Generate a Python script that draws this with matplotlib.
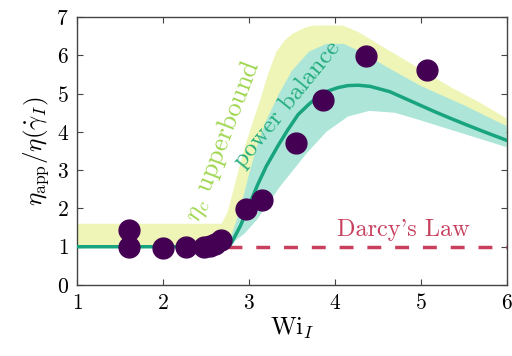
import numpy as np
import matplotlib
matplotlib.use("Agg")
import matplotlib.pyplot as plt

plt.rcParams['mathtext.fontset'] = 'cm'
plt.rcParams['font.family'] = 'serif'
plt.rcParams['font.serif'] = ['cmr10', 'DejaVu Serif']
plt.rcParams['axes.formatter.use_mathtext'] = True

# experimental points
wi_pts = [1.60, 1.60, 2.00, 2.27, 2.48, 2.55, 2.60, 2.67, 2.97, 3.15, 3.55, 3.86, 4.36, 5.07]
eta_pts = [1.45, 1.00, 0.97, 1.00, 1.00, 1.02, 1.07, 1.17, 1.98, 2.22, 3.72, 4.83, 5.98, 5.63]

# power balance curve
wi_curve = [1.0, 2.76, 2.8, 2.9, 3.0, 3.1, 3.2, 3.34, 3.45, 3.57, 3.7, 3.81, 3.92, 4.04,
            4.15, 4.27, 4.41, 4.64, 4.95, 5.15, 5.34, 5.55, 5.73, 6.0]
eta_curve = [1.0, 1.0, 1.12, 1.55, 2.08, 2.62, 3.1, 3.65, 4.05, 4.45, 4.73, 4.93, 5.07, 5.16,
             5.21, 5.22, 5.19, 5.05, 4.74, 4.54, 4.36, 4.17, 4.01, 3.78]

# power balance band
wi_pb_up = [2.75, 2.9, 3.0, 3.1, 3.2, 3.35, 3.5, 3.7, 3.9, 4.1, 4.3, 4.6, 5.0, 5.5, 6.0]
eta_pb_up = [1.0, 2.0, 2.9, 3.7, 4.3, 5.0, 5.6, 6.1, 6.3, 6.3, 6.1, 5.7, 5.2, 4.7, 4.15]
wi_pb_lo = [2.75, 2.95, 3.09, 3.36, 3.67, 3.9, 4.15, 4.4, 4.7, 5.0, 5.5, 6.0]
eta_pb_lo = [1.0, 1.35, 1.7, 2.57, 3.44, 4.0, 4.4, 4.55, 4.5, 4.3, 3.95, 3.6]

# eta_c upperbound band (lower edge follows the power-balance curve)
wi_ub_up = [1.0, 2.68, 2.75, 2.82, 2.95, 3.05, 3.13, 3.22, 3.32, 3.42, 3.51, 3.65, 3.75,
            4.09, 4.18, 4.28, 4.56, 4.95, 5.34, 5.7, 6.0]
eta_ub_up = [1.6, 1.6, 1.9, 2.5, 3.6, 4.3, 4.83, 5.5, 6.1, 6.4, 6.57, 6.72, 6.78,
             6.78, 6.7, 6.6, 6.22, 5.70, 5.18, 4.75, 4.35]

# Darcy's law
wi_darcy = [2.75, 6.0]
eta_darcy = [1.0, 1.0]

fig = plt.figure(figsize=(5.12, 3.56), dpi=100)
ax = fig.add_axes([0.151, 0.1994, 0.8386, 0.7526])

yellow = '#eef5b6'
teal = '#ade6d8'
green = '#18a47e'

ax.fill(np.concatenate([wi_ub_up, wi_curve[::-1]]),
        np.concatenate([eta_ub_up, eta_curve[::-1]]),
        color=yellow, lw=0, zorder=1)
ax.fill(np.concatenate([wi_pb_up, wi_pb_lo[::-1]]),
        np.concatenate([eta_pb_up, eta_pb_lo[::-1]]),
        color=teal, lw=0, zorder=2)
ax.plot(wi_darcy, eta_darcy, color='#c8405e', lw=2.5, dashes=(4, 4), zorder=3)
ax.plot(wi_curve, eta_curve, color=green, lw=2.5, zorder=4)
ax.plot(wi_pts, eta_pts, 'o', color='#440154', ms=15, mec='#440154', zorder=5)

ax.text(2.70, 3.76, r'$\eta_c$ upperbound', color='#9ed64e', fontsize=19,
        rotation=69, ha='center', va='center', rotation_mode='anchor', zorder=6)
ax.text(3.45, 4.72, 'power balance', color='#25ad7e', fontsize=18,
        rotation=51, ha='center', va='center', rotation_mode='anchor', zorder=6)
ax.text(4.80, 1.44, "Darcy's Law", color='#c8405e', fontsize=17.5,
        ha='center', va='center', zorder=6)

ax.set_xlim(1, 6)
ax.set_ylim(0, 7)
ax.set_xticks([1, 2, 3, 4, 5, 6])
ax.set_yticks([0, 1, 2, 3, 4, 5, 6, 7])
ax.tick_params(direction='in', top=True, right=True, length=4, labelsize=15.5,
               color='#444444', pad=6)
for s in ax.spines.values():
    s.set_color('#444444')
    s.set_linewidth(1.0)
ax.set_xlabel(r'${\rm Wi}_I$', fontsize=18, labelpad=2)
ax.set_ylabel(r'$\eta_{\rm app}/\eta(\dot{\gamma}_I)$', fontsize=18, labelpad=4)

fig.savefig('out.png', dpi=100)
